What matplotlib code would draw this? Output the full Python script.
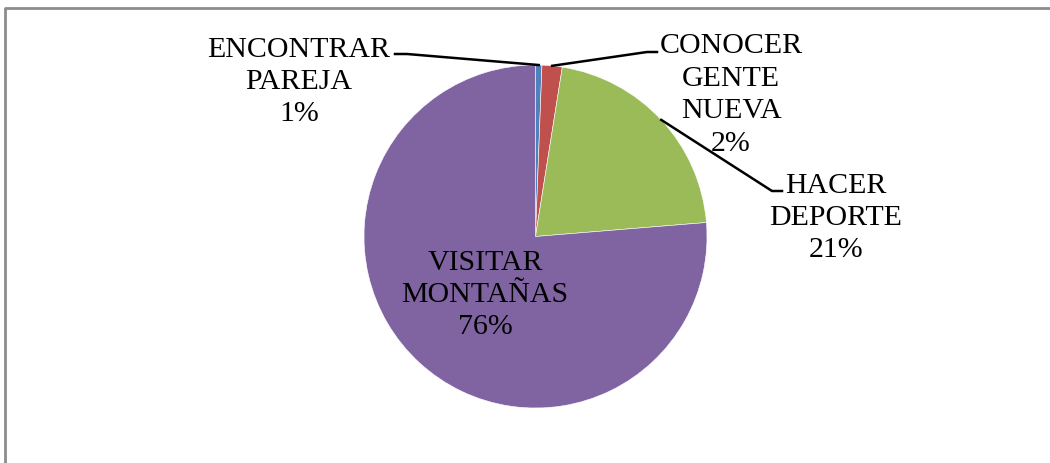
import matplotlib.pyplot as plt
import numpy as np

labels = ["ENCONTRAR\nPAREJA", "CONOCER\nGENTE\nNUEVA", "HACER\nDEPORTE", "VISITAR\nMONTAÑAS"]
values = [0.6, 1.9, 21.2, 76.3]
colors = ["#4F81BD", "#C0504D", "#9BBB59", "#8064A2"]

W, H = 1050, 464
plt.rcParams["font.family"] = ["Liberation Serif", "DejaVu Serif"]

fig = plt.figure(figsize=(W / 100, H / 100), dpi=100)
ax = fig.add_axes([0, 0, 1, 1])

cx, cy, r = 535.5, H - 237.5, 171.5
wedges, _ = ax.pie(values, colors=colors, startangle=90, counterclock=False,
                   center=(cx, cy), radius=r, frame=True,
                   wedgeprops=dict(edgecolor="white", linewidth=0.4))
ax.set_xlim(0, W)
ax.set_ylim(0, H)
ax.set_aspect("auto")
ax.axis("off")

# label positions in pixels (x, y from top)
label_pos = [(299, 82), (731, 95), (836, 218), (485, 295)]
# leader line elbows: (bend point, end near text)
leaders = [((407, 55), (395, 55)), ((647, 53), (657, 53)), ((772, 192), (782, 192)), None]

total = sum(values)
for w, lab, v, (tx, ty), ld in zip(wedges, labels, values, label_pos, leaders):
    pct = "%d%%" % round(v / total * 100)
    ax.text(tx, H - ty, lab + "\n" + pct, ha="center", va="center",
            fontsize=21.5, linespacing=1.32, color="black")
    if ld is not None:
        mid = np.deg2rad((w.theta1 + w.theta2) / 2)
        px, py = cx + r * np.cos(mid), cy + r * np.sin(mid)
        xs = [px, ld[0][0], ld[1][0]]
        ys = [py, H - ld[0][1], H - ld[1][1]]
        ax.plot(xs, ys, color="black", linewidth=1.8)

# chart frame (top and left edges visible)
ax.plot([4.5, 4.5, W], [0, H - 8.5, H - 8.5], color="#8c8c8c", linewidth=2, clip_on=False)

fig.savefig("out.png", dpi=100)
